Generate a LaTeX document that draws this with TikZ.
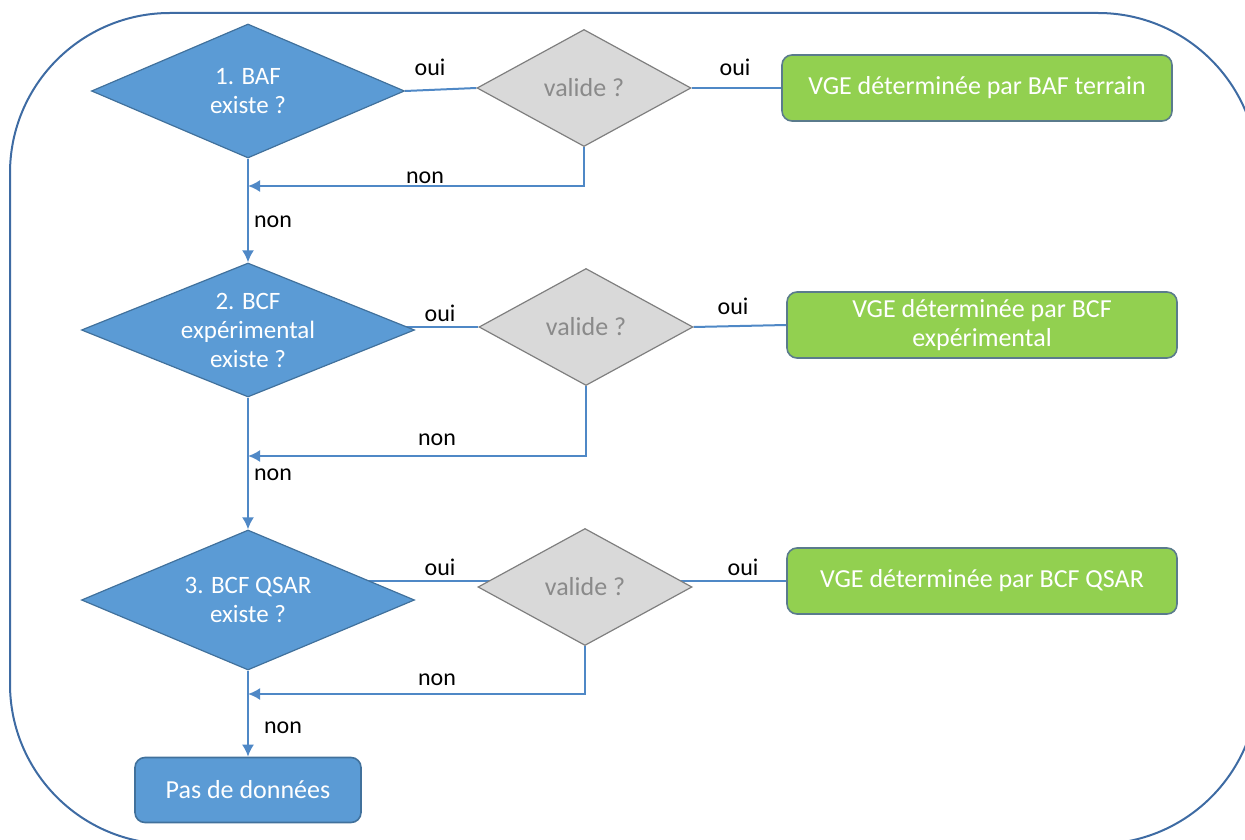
\documentclass[tikz,border=0pt]{standalone}
\usepackage{fontspec}
\setmainfont{Carlito}
\usetikzlibrary{shapes.geometric,arrows.meta,backgrounds}

\definecolor{bleu}{HTML}{5B9BD5}
\definecolor{bordbleu}{HTML}{41719C}
\definecolor{trait}{HTML}{4F88C6}
\definecolor{gris}{HTML}{D9D9D9}
\definecolor{bordgris}{HTML}{7F7F7F}
\definecolor{textegris}{HTML}{8A8A8A}
\definecolor{vert}{HTML}{92D050}
\definecolor{bordvert}{HTML}{5A7B8C}
\definecolor{cadre}{HTML}{3E6BA3}

\begin{document}
\begin{tikzpicture}[x=0.5pt,y=-0.5pt,
    font=\fontsize{13}{14.5}\selectfont,
    test/.style={diamond,draw=bordbleu,fill=bleu,text=white,line width=0.6pt,
      font=\fontsize{12.5}{14.5}\selectfont,
      inner sep=0pt,aspect=2.5,align=center,minimum width=166.5pt,minimum height=67pt},
    valide/.style={diamond,draw=bordgris,fill=gris,text=textegris,line width=0.6pt,
      inner sep=0pt,aspect=1.8,minimum width=107pt,minimum height=58.5pt},
    resultat/.style={rectangle,rounded corners=5pt,draw=bordvert,fill=vert,text=white,
      line width=0.8pt,align=center,minimum width=195pt,minimum height=33pt},
    fin/.style={rectangle,rounded corners=5pt,draw=bordbleu,fill=bleu,text=white,
      line width=0.8pt,minimum width=113pt,minimum height=32.5pt},
    lien/.style={draw=trait,line width=1pt},
    fleche/.style={lien,-{Latex[length=6pt,width=6pt]}},
    etiq/.style={inner sep=0pt,text=black,font=\fontsize{12}{14}\selectfont}]

\useasboundingbox (0,0) rectangle (1245,839);
\draw[cadre,line width=1pt,rounded corners=80pt] (10,13) rectangle (1258,844);

% questions
\node[test,minimum width=156.5pt] (d1) at (248,91) {1. BAF\\existe ?};
\node[test] (d2) at (248,330) {2. BCF\\exp\'erimental\\existe ?};
\node[test,minimum height=70pt] (d3) at (248,600) {3. BCF QSAR\\existe ?};

% validation
\node[valide] (v1) at (584,88) {valide ?};
\node[valide] (v2) at (586,327) {valide ?};
\node[valide] (v3) at (585,587) {valide ?};

% resultats
\node[resultat] (g1) at (977,88) {VGE d\'etermin\'ee par BAF terrain};
\node[resultat] (g2) at (982,325) {VGE d\'etermin\'ee par BCF\\exp\'erimental};
\node[resultat] (g3) at (982,581) {VGE d\'etermin\'ee par BCF QSAR};
\node[fin] (p) at (248,790) {Pas de donn\'ees};

% points de jonction
\coordinate (j1) at (248,186);
\coordinate (j2) at (248,456);
\coordinate (j3) at (248,694);

\begin{scope}[on background layer]
  \draw[lien] (d1.east) -- (v1.west);
  \draw[lien] (v1.east) -- (g1.west);
  \draw[lien] (v2.west) -- (v2.west -| d2.center);
  \draw[lien] (v2.east) -- (g2.west);
  \draw[lien] (g3.west) -- (g3.west -| d3.center);
  \draw[lien] (d1.south) -- (j1);
  \draw[lien] (d2.south) -- (j2);
  \draw[lien] (d3.south) -- (j3);
\end{scope}

\draw[fleche] (v1.south) |- (j1);
\draw[fleche] (v2.south) |- (j2);
\draw[fleche] (v3.south) |- (j3);
\draw[fleche] (j1) -- (d2.north);
\draw[fleche] (j2) -- (d3.north);
\draw[fleche] (j3) -- (p.north);

% etiquettes
\node[etiq] (o1) at (430,67) {oui};
\node[etiq] (o2) at (735,67) {oui};
\node[etiq] (o3) at (440,313) {oui};
\node[etiq] (o4) at (733,306) {oui};
\node[etiq] (o5) at (440,567) {oui};
\node[etiq] (o6) at (743,567) {oui};
\node[etiq] (n1) at (425,178) {non};
\node[etiq] (n2) at (273,222) {non};
\node[etiq] (n3) at (437,440) {non};
\node[etiq] (n4) at (273,475) {non};
\node[etiq] (n5) at (437,680) {non};
\node[etiq] (n6) at (283,728) {non};
\end{tikzpicture}
\end{document}
